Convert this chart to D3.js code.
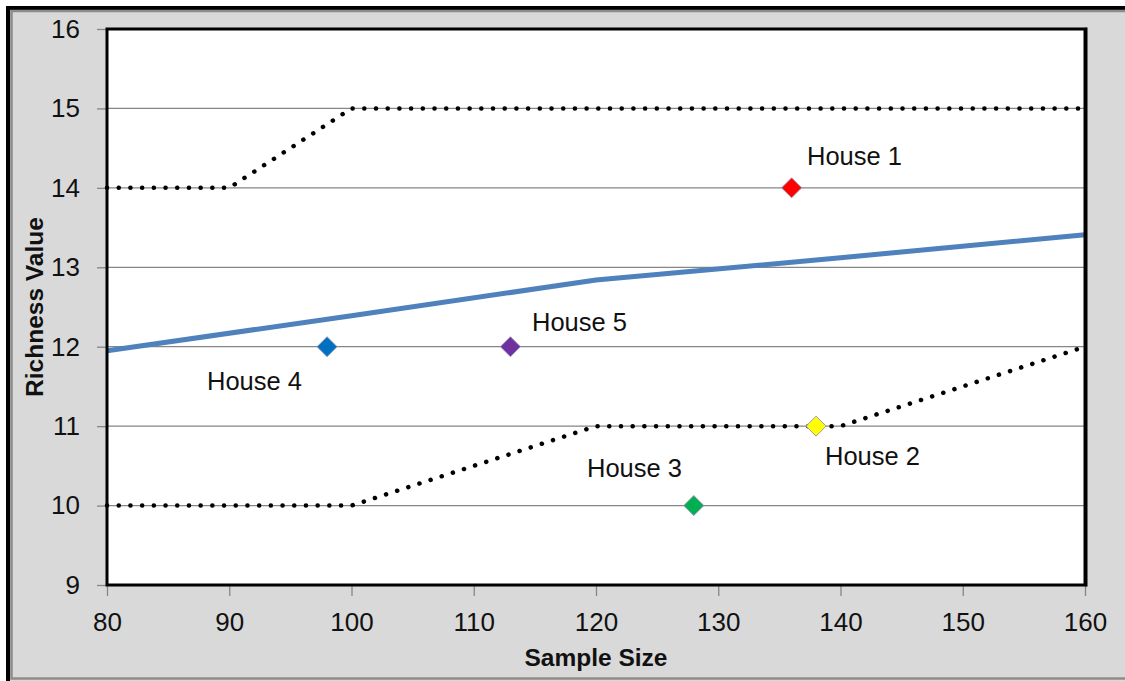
<!DOCTYPE html>
<html><head><meta charset="utf-8">
<script src="https://cdn.jsdelivr.net/npm/d3@7"></script>
<style>html,body{margin:0;padding:0;background:#fff;}svg{display:block;}</style>
</head><body>
<svg id="c" width="1125" height="681"></svg>
<script>
// ---- data ----
const xTicks = [80, 90, 100, 110, 120, 130, 140, 150, 160];
const yTicks = [9, 10, 11, 12, 13, 14, 15, 16];
const upperX = [80, 90, 100, 160];
const upperY = [14, 14, 15, 15];
const lowerX = [80, 100, 120, 140, 160];
const lowerY = [10, 10, 11, 11, 12];
const trendX = [80, 100, 120, 140, 160];
const trendY = [11.95, 12.39, 12.84, 13.12, 13.41];
const houseNames = ["House 1", "House 2", "House 3", "House 4", "House 5"];
const houseX = [136, 138, 128, 98, 113];
const houseY = [14, 11, 10, 12, 12];
const houseColors = ["#FF0000", "#FFFF00", "#00B050", "#0070C0", "#7030A0"];
const xTitle = "Sample Size";
const yTitle = "Richness Value";

// ---- layout ----
const L = 107, R = 1085, T = 29, B = 585;
const svg = d3.select("#c");
const x = d3.scaleLinear().domain([80, 160]).range([L, R]);
const y = d3.scaleLinear().domain([9, 16]).range([B, T]);

// frame
svg.append("rect").attr("x", 6).attr("y", 6).attr("width", 1200).attr("height", 700).attr("fill", "#D9D9D9");
svg.append("rect").attr("x", 8).attr("y", 8).attr("width", 1200).attr("height", 675)
  .attr("fill", "none").attr("stroke", "#000").attr("stroke-width", 4);
svg.append("rect").attr("x", 11.5).attr("y", 11).attr("width", 1200).attr("height", 667.5)
  .attr("fill", "none").attr("stroke", "#8C8C8C").attr("stroke-width", 2.5);

// plot area
svg.append("rect").attr("x", L).attr("y", T).attr("width", R - L).attr("height", B - T).attr("fill", "#fff");

// gridlines
svg.append("g").selectAll("line").data(yTicks.filter(d => d > 9 && d < 16)).join("line")
  .attr("x1", L).attr("x2", R).attr("y1", d => y(d)).attr("y2", d => y(d))
  .attr("stroke", "#868686").attr("stroke-width", 1.3);

// axes
const yAxis = d3.axisLeft(y).tickValues(yTicks).tickSize(10).tickPadding(17).tickFormat(d3.format("d"));
const gy = svg.append("g").attr("transform", `translate(${L},0)`).call(yAxis);
const xAxis = d3.axisBottom(x).tickValues(xTicks).tickSize(11).tickPadding(17).tickFormat(d3.format("d"));
const gx = svg.append("g").attr("transform", `translate(0,${B})`).call(xAxis);
[gx, gy].forEach(g => {
  g.select(".domain").remove();
  g.selectAll(".tick line").attr("stroke", "#868686").attr("stroke-width", 1.3);
  g.selectAll(".tick text").attr("fill", "#111").attr("font-family", "Liberation Sans, Arial, sans-serif").attr("font-size", 26);
});
gx.selectAll(".tick text").attr("dy", "0.71em");

// lines
const line = d3.line().x(d => x(d[0])).y(d => y(d[1]));
const dotted = (xs, ys) => svg.append("path").datum(xs.map((v, i) => [v, ys[i]]))
  .attr("d", line).attr("fill", "none").attr("stroke", "#000").attr("stroke-width", 4.5)
  .attr("stroke-linecap", "round").attr("stroke-dasharray", "0.1 11.6");
dotted(upperX, upperY);
dotted(lowerX, lowerY);
svg.append("path").datum(trendX.map((v, i) => [v, trendY[i]]))
  .attr("d", line).attr("fill", "none").attr("stroke", "#4F81BD").attr("stroke-width", 5);

// plot border
svg.append("rect").attr("x", L).attr("y", T).attr("width", R - L).attr("height", B - T)
  .attr("fill", "none").attr("stroke", "#000").attr("stroke-width", 3);
svg.append("line").attr("x1", R + 1.5).attr("x2", R + 1.5).attr("y1", T - 1.5).attr("y2", B + 1.5)
  .attr("stroke", "#000").attr("stroke-width", 2);

// markers
const houses = houseNames.map((n, i) => ({ n, x: houseX[i], y: houseY[i], c: houseColors[i] }));
const s = 10;
svg.append("g").selectAll("path").data(houses).join("path")
  .attr("d", d => `M${x(d.x)},${y(d.y) - s}L${x(d.x) + s},${y(d.y)}L${x(d.x)},${y(d.y) + s}L${x(d.x) - s},${y(d.y)}Z`)
  .attr("fill", d => d.c).attr("stroke", "#9A94B8").attr("stroke-width", 1).attr("stroke-linejoin", "round");

// house labels
const labelPos = { "House 1": [807, 165], "House 2": [825, 465], "House 3": [587, 477], "House 4": [207, 390], "House 5": [532, 331] };
svg.append("g").selectAll("text").data(houses).join("text")
  .attr("x", d => labelPos[d.n][0]).attr("y", d => labelPos[d.n][1])
  .attr("font-family", "Liberation Sans, Arial, sans-serif").attr("font-size", 25.5).attr("fill", "#111")
  .text(d => d.n);

// axis titles
svg.append("text").attr("x", (L + R) / 2).attr("y", 666).attr("text-anchor", "middle")
  .attr("font-family", "Liberation Sans, Arial, sans-serif").attr("font-weight", "bold").attr("font-size", 24.5)
  .attr("fill", "#111").text(xTitle);
svg.append("text").attr("transform", `translate(43,${(T + B) / 2}) rotate(-90)`).attr("text-anchor", "middle")
  .attr("font-family", "Liberation Sans, Arial, sans-serif").attr("font-weight", "bold").attr("font-size", 24.5)
  .attr("fill", "#111").text(yTitle);
</script>
</body></html>
